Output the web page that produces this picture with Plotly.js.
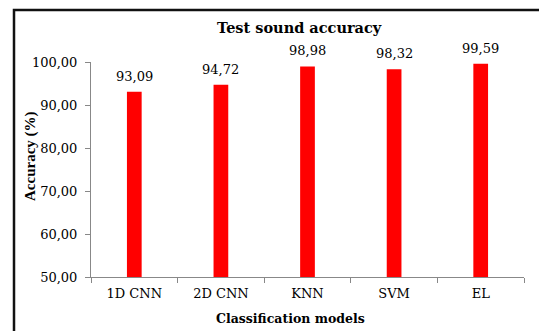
<!DOCTYPE html>
<html>
<head>
<meta charset="utf-8">
<script src="https://cdn.plot.ly/plotly-3.0.1.min.js"></script>
<style>html,body{margin:0;padding:0;background:#fff;}#chart{width:539px;height:331px;}</style>
</head>
<body>
<div id="chart"></div>
<script>
var categories = ['1D CNN', '2D CNN', 'KNN', 'SVM', 'EL'];
var accuracy = [93.09, 94.72, 98.98, 98.32, 99.59];
var yTickVals = [50, 60, 70, 80, 90, 100];
var yTickText = ['50,00', '60,00', '70,00', '80,00', '90,00', '100,00'];

function fmt(v) { return v.toFixed(2).replace('.', ','); }

var FONT = 'DejaVu Serif, serif';
var TIMES = 'Liberation Serif, Times New Roman, serif';
var W = 539, H = 331, L = 91, R = 15, T = 62, B = 54;
var pw = W - L - R, ph = H - T - B;
function px(x) { return (x - L) / pw; }
function py(y) { return (H - B - y) / ph; }

var trace = {
  type: 'bar',
  x: categories,
  y: accuracy,
  marker: {color: '#ff0000', line: {width: 0}},
  width: 0.17,
  hoverinfo: 'none'
};

var annots = categories.map(function (c, i) {
  return {
    x: c, y: accuracy[i], xref: 'x', yref: 'y',
    text: fmt(accuracy[i]), showarrow: false,
    yanchor: 'bottom', yshift: 6,
    font: {family: FONT, size: 13, color: '#000'}
  };
});
annots.push({
  xref: 'paper', yref: 'paper', x: px(290), y: py(318),
  xanchor: 'center', yanchor: 'middle', showarrow: false,
  text: '<b>Classification models</b>',
  font: {family: FONT, size: 12.5, color: '#000'}
});
annots.push({
  xref: 'paper', yref: 'paper', x: px(30), y: py(156),
  xanchor: 'center', yanchor: 'middle', showarrow: false, textangle: -90,
  text: '<b>Accuracy (%)</b>',
  font: {family: TIMES, size: 15, color: '#000'}
});

var layout = {
  width: W, height: H,
  margin: {l: L, r: R, t: T, b: B, pad: 0},
  paper_bgcolor: '#fff', plot_bgcolor: '#fff',
  showlegend: false,
  font: {family: FONT, size: 13, color: '#000'},
  title: {text: '<b>Test sound accuracy</b>', x: 0.555, xanchor: 'center', y: 0.915, yanchor: 'middle',
          font: {family: FONT, size: 14.5, color: '#000'}},
  xaxis: {
    type: 'category',
    showline: true, linecolor: '#888', linewidth: 1,
    ticks: 'outside', tickcolor: '#888', ticklen: 5, tickson: 'boundaries',
    ticklabelstandoff: 4,
    showgrid: false, zeroline: false,
    tickfont: {family: FONT, size: 13, color: '#000'}
  },
  yaxis: {
    range: [50, 100],
    tickvals: yTickVals, ticktext: yTickText,
    showline: true, linecolor: '#888', linewidth: 1,
    ticks: 'outside', tickcolor: '#888', ticklen: 5,
    ticklabelstandoff: 5,
    showgrid: false, zeroline: false,
    tickfont: {family: FONT, size: 13, color: '#000'}
  },
  annotations: annots,
  shapes: [{
    type: 'rect', xref: 'paper', yref: 'paper',
    x0: px(14), x1: px(560), y0: py(10), y1: py(360),
    line: {color: '#111', width: 2.5}, fillcolor: 'rgba(0,0,0,0)', layer: 'below'
  }]
};

Plotly.newPlot('chart', [trace], layout, {staticPlot: true, displayModeBar: false});
</script>
</body>
</html>
